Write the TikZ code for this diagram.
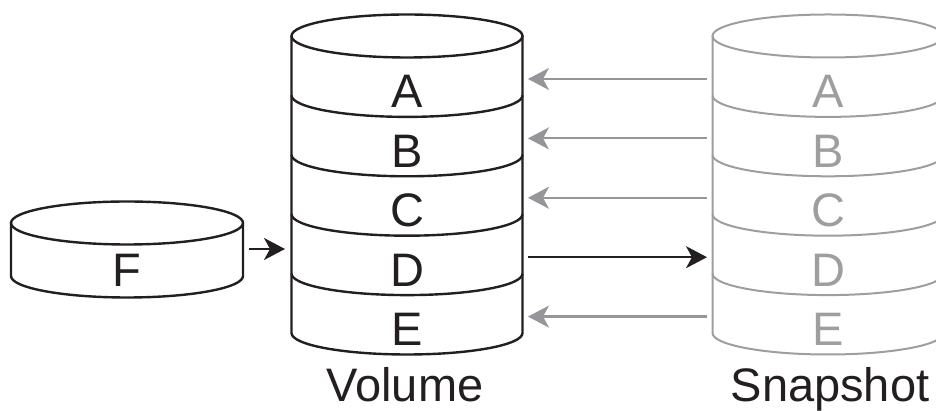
\documentclass[tikz,border=0pt]{standalone}
\usepackage{fontspec}
\setmainfont{Liberation Sans}
\usetikzlibrary{arrows.meta}
\definecolor{ink}{RGB}{35,31,32}
\definecolor{snapgray}{RGB}{158,158,160}
\definecolor{arrowgray}{RGB}{150,150,154}
\tikzset{
  volline/.style={draw=ink, line width=2.4pt},
  snapline/.style={draw=snapgray, line width=2pt},
  letter/.style={font=\fontsize{47}{50}\selectfont, inner sep=0pt, anchor=base},
  caption/.style={font=\fontsize{47}{50}\selectfont, inner sep=0pt, anchor=base, text=ink},
  tip/.style={-{Stealth[length=21pt, width=22pt, inset=6pt]}},
  copyarrow/.style={tip, draw=arrowgray, line width=2.2pt},
  writearrow/.style={tip, draw=ink, line width=2.2pt},
}
\begin{document}
\begin{tikzpicture}[x=1pt,y=1pt]
\useasboundingbox (0,0) rectangle (936,411);
\clip (0,0) rectangle (936,411);

% stacked cylinders: volume (black) and snapshot (grey)
\def\rx{115.5pt}
\def\ry{21.5pt}
\foreach \cx/\sty in {407/volline, 828/snapline} {
  \draw[\sty] (\cx,375) ellipse [x radius=\rx, y radius=\ry];
  \draw[\sty] (\cx-115.5,375) -- (\cx-115.5,78)
    arc[start angle=180, end angle=360, x radius=\rx, y radius=\ry]
    -- (\cx+115.5,375);
  \foreach \k in {1,...,4}
    \draw[\sty] (\cx-115.5,375-59.4*\k)
      arc[start angle=180, end angle=360, x radius=\rx, y radius=\ry];
}

% layer labels and arrow end points
\foreach \L [count=\n from 0] in {A,B,C,D,E} {
  \node[letter, text=ink] (v\L) at (407,303-59.4*\n) {\L};
  \node[letter, text=snapgray] (s\L) at (828,303-59.4*\n) {\L};
  \coordinate (v\L r) at (528,332-59.4*\n);
  \coordinate (s\L l) at (707,332-59.4*\n);
}

% unchanged blocks are read from the snapshot
\foreach \L in {A,B,C,E}
  \draw[copyarrow] (s\L l) -- (v\L r);
% overwritten block is copied out first
\draw[writearrow] (vDr) -- (sDl);

% incoming data disk
\draw[volline] (127,188) ellipse [x radius=116pt, y radius=\ry];
\draw[volline] (11,188) -- (11,135)
  arc[start angle=180, end angle=360, x radius=116pt, y radius=\ry]
  -- (243,188);
\node[letter, text=ink] (f) at (127,124) {F};
\coordinate (fr) at (249,162);
\coordinate (vl) at (285,162);
\draw[writearrow] (fr) -- (vl);

% captions
\node[caption] (volcap) at (405,9) {Volume};
\node[caption] (snapcap) at (830,9) {Snapshot};
\end{tikzpicture}
\end{document}
